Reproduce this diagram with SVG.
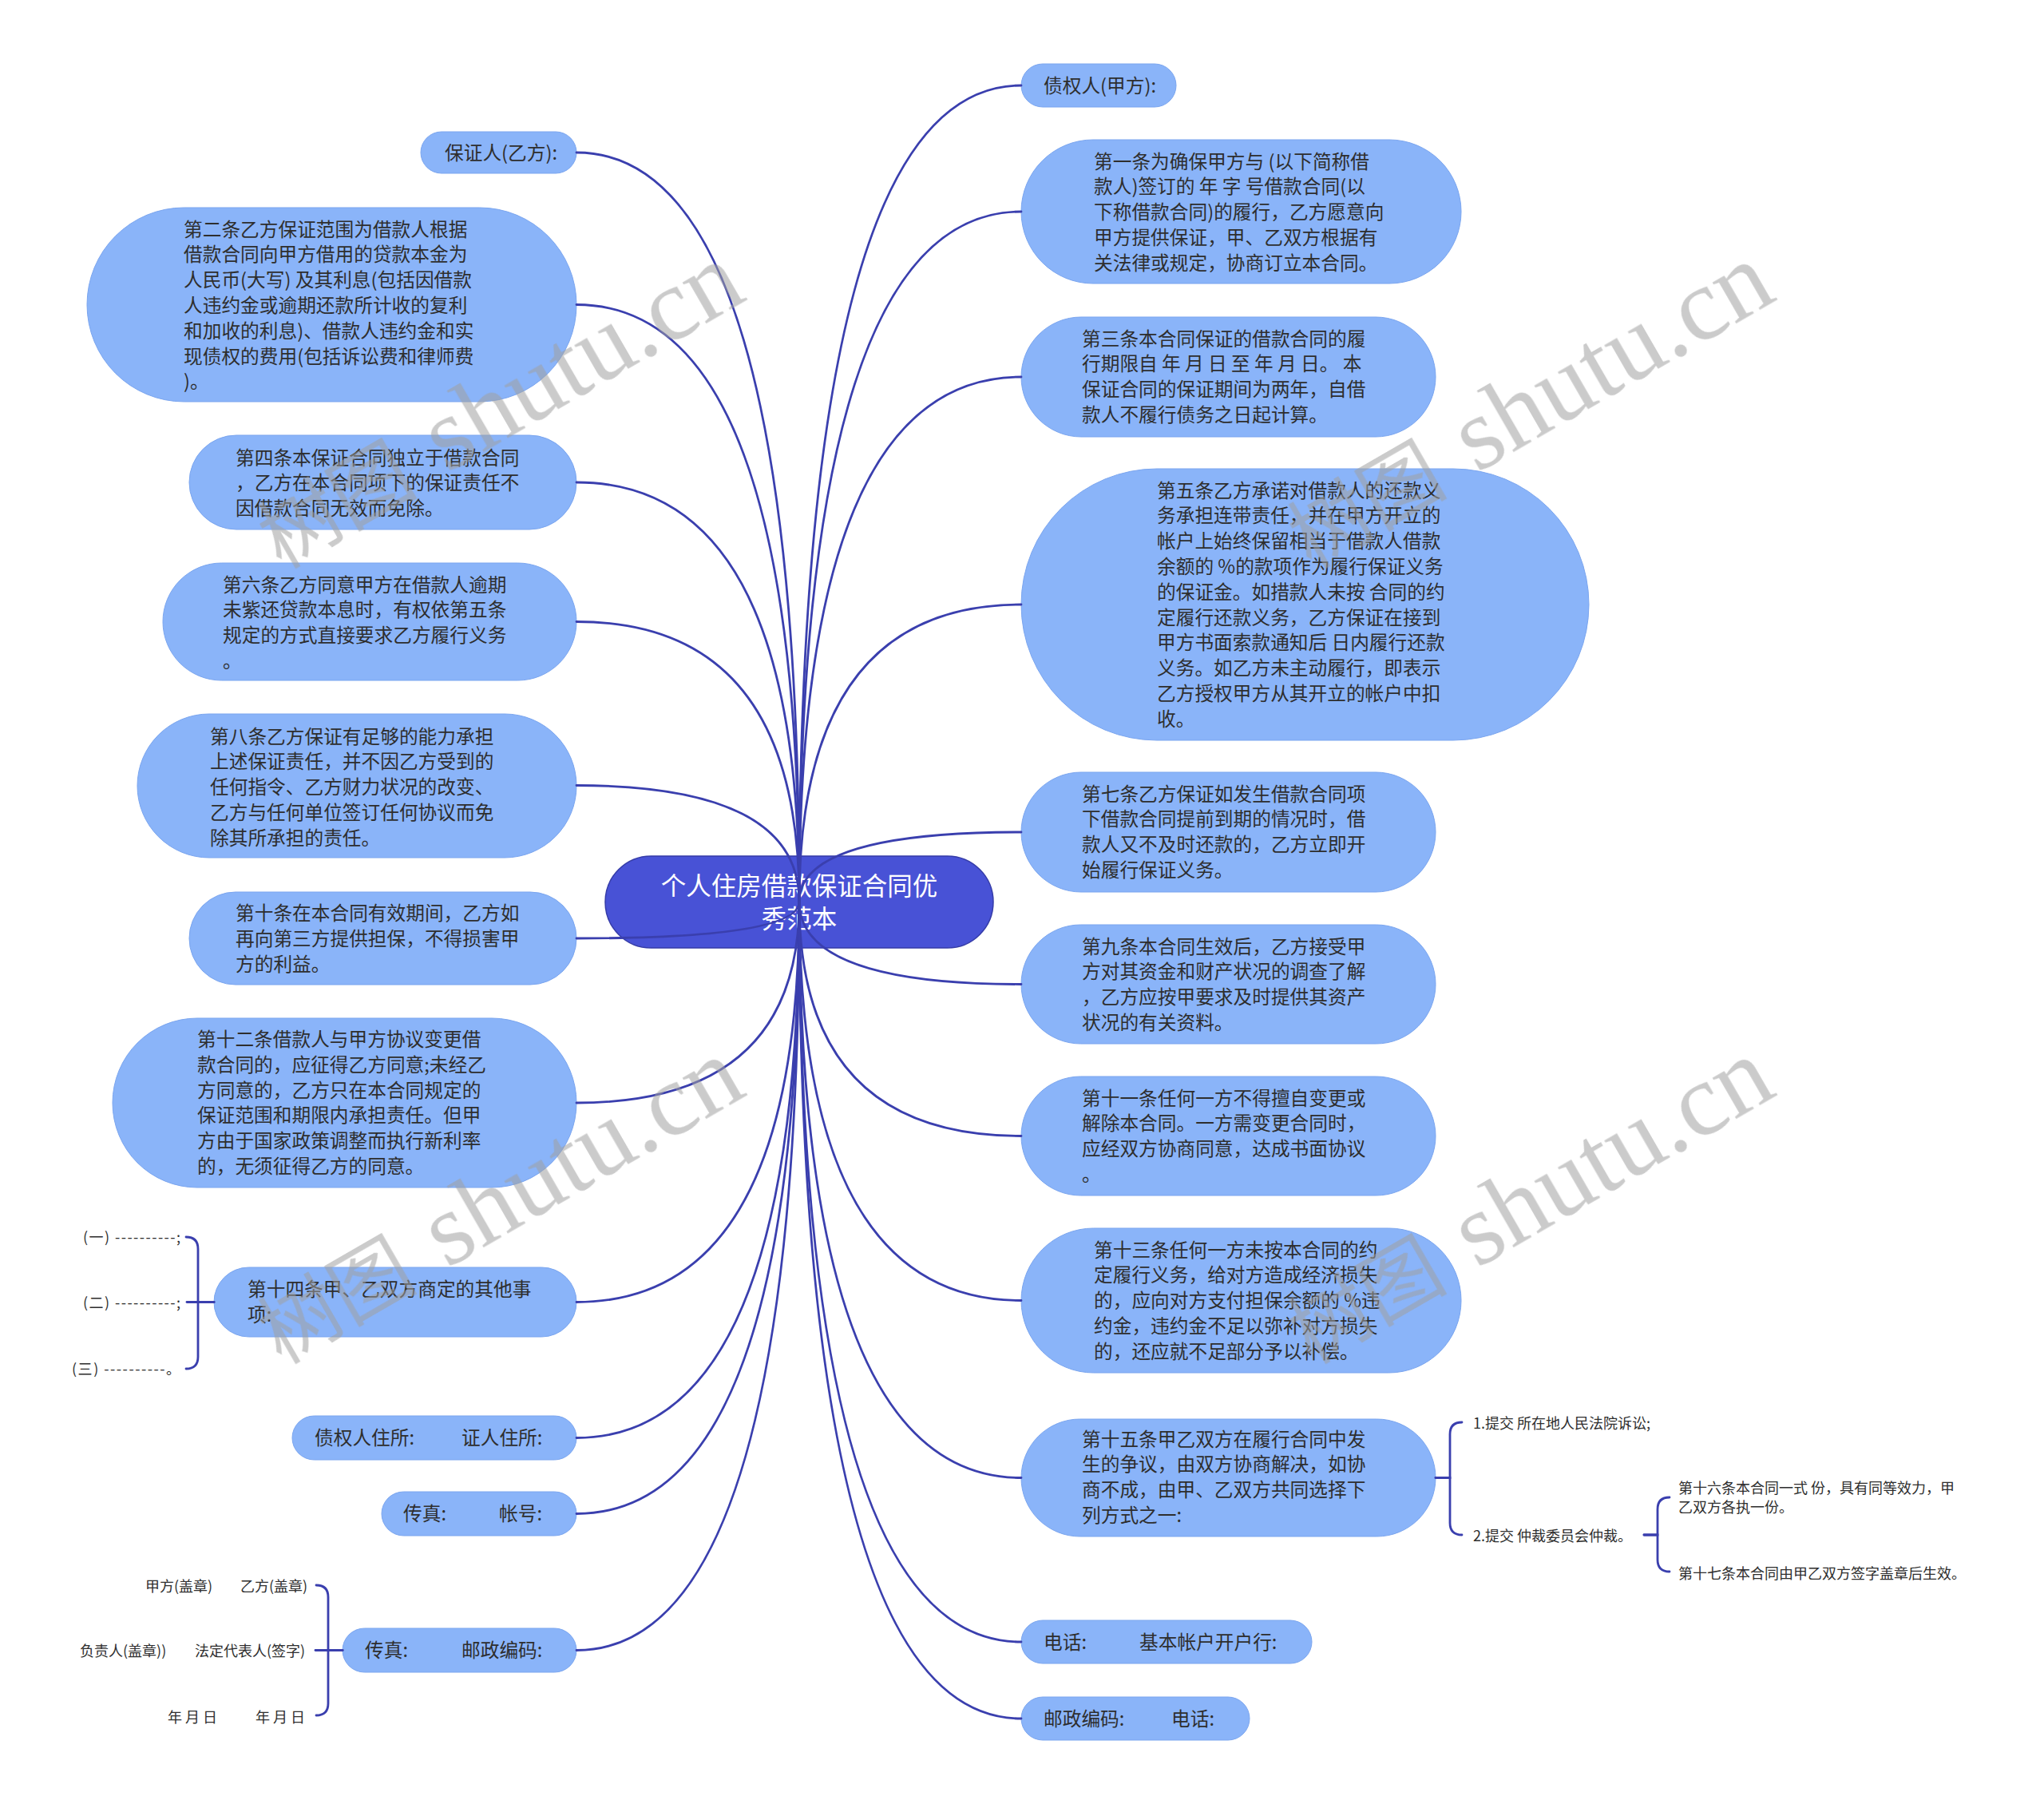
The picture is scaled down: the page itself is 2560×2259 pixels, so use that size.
<svg xmlns="http://www.w3.org/2000/svg" width="2560" height="2259" viewBox="0 0 2560 2259">
<style>
.bg{fill:#ffffff}
.node rect{fill:#8ab4f9;stroke:#7aa5ef;stroke-width:1}
.t{font-family:"Noto Sans CJK SC","Noto Sans",sans-serif;font-size:23.7px;fill:#2e2e2e}
.s{font-family:"Noto Sans CJK SC","Noto Sans",sans-serif;font-size:18px;fill:#2e2e2e}
.root rect{fill:#4852d6;stroke:#343ba8;stroke-width:1.5}
.rt{font-family:"Noto Sans CJK SC","Noto Sans",sans-serif;font-size:31.5px;fill:#ffffff;text-anchor:middle}
.c path{fill:none;stroke:#3a3fae;stroke-width:2.8;stroke-linecap:round}
.wm{fill:#a0a0a0;opacity:0.55}
.wc{font-family:"Noto Sans CJK SC",sans-serif;font-size:100px}
.wl{font-family:"Liberation Serif",serif;font-size:130px}
</style>
<rect class="bg" x="0" y="0" width="2560" height="2259"/>

<!-- left nodes -->
<g id="n-baozhengren" class="node"><rect x="527" y="165" width="195" height="52" rx="26"/><text class="t" x="557" y="199.5">保证人(乙方):</text></g>
<g id="n-2" class="node"><rect x="109" y="260" width="613" height="243" rx="121.5"/><text class="t" y="295.5"><tspan x="230">第二条乙方保证范围为借款人根据</tspan><tspan x="230" dy="31.8">借款合同向甲方借用的贷款本金为</tspan><tspan x="230" dy="31.8">人民币(大写) 及其利息(包括因借款</tspan><tspan x="230" dy="31.8">人违约金或逾期还款所计收的复利</tspan><tspan x="230" dy="31.8">和加收的利息)、借款人违约金和实</tspan><tspan x="230" dy="31.8">现债权的费用(包括诉讼费和律师费</tspan><tspan x="230" dy="31.8">)。</tspan></text></g>
<g id="n-4" class="node"><rect x="237" y="545" width="485" height="118" rx="59"/><text class="t" y="581.5"><tspan x="295">第四条本保证合同独立于借款合同</tspan><tspan x="295" dy="31.8">，乙方在本合同项下的保证责任不</tspan><tspan x="295" dy="31.8">因借款合同无效而免除。</tspan></text></g>
<g id="n-6" class="node"><rect x="204" y="705" width="518" height="147" rx="73.5"/><text class="t" y="740.5"><tspan x="279">第六条乙方同意甲方在借款人逾期</tspan><tspan x="279" dy="31.8">未紫还贷款本息时，有权依第五条</tspan><tspan x="279" dy="31.8">规定的方式直接要求乙方履行义务</tspan><tspan x="279" dy="31.8">。</tspan></text></g>
<g id="n-8" class="node"><rect x="172" y="894" width="550" height="180" rx="90"/><text class="t" y="930.5"><tspan x="263">第八条乙方保证有足够的能力承担</tspan><tspan x="263" dy="31.8">上述保证责任，并不因乙方受到的</tspan><tspan x="263" dy="31.8">任何指令、乙方财力状况的改变、</tspan><tspan x="263" dy="31.8">乙方与任何单位签订任何协议而免</tspan><tspan x="263" dy="31.8">除其所承担的责任。</tspan></text></g>
<g id="n-10" class="node"><rect x="237" y="1117" width="485" height="116" rx="58"/><text class="t" y="1152"><tspan x="295">第十条在本合同有效期间，乙方如</tspan><tspan x="295" dy="31.8">再向第三方提供担保，不得损害甲</tspan><tspan x="295" dy="31.8">方的利益。</tspan></text></g>
<g id="n-12" class="node"><rect x="141" y="1275" width="581" height="212" rx="106"/><text class="t" y="1310"><tspan x="247">第十二条借款人与甲方协议变更借</tspan><tspan x="247" dy="31.8">款合同的，应征得乙方同意;未经乙</tspan><tspan x="247" dy="31.8">方同意的，乙方只在本合同规定的</tspan><tspan x="247" dy="31.8">保证范围和期限内承担责任。但甲</tspan><tspan x="247" dy="31.8">方由于国家政策调整而执行新利率</tspan><tspan x="247" dy="31.8">的，无须征得乙方的同意。</tspan></text></g>
<g id="n-14" class="node"><rect x="268" y="1587" width="454" height="87" rx="43.5"/><text class="t" y="1623"><tspan x="310">第十四条甲、乙双方商定的其他事</tspan><tspan x="310" dy="31.8">项:</tspan></text></g>
<g id="n-14-1"><text class="s" x="226" y="1555.5" text-anchor="end" textLength="122" lengthAdjust="spacing">(一) ----------;</text></g>
<g id="n-14-2"><text class="s" x="226" y="1637.5" text-anchor="end" textLength="122" lengthAdjust="spacing">(二) ----------;</text></g>
<g id="n-14-3"><text class="s" x="226" y="1720.5" text-anchor="end" textLength="136" lengthAdjust="spacing">(三) ----------。</text></g>
<g id="n-zhusuo" class="node"><rect x="366" y="1773" width="356" height="55" rx="27.5"/><text class="t" y="1809"><tspan x="394">债权人住所:</tspan><tspan x="578">证人住所:</tspan></text></g>
<g id="n-zhanghao" class="node"><rect x="478" y="1868" width="244" height="55" rx="27.5"/><text class="t" y="1904"><tspan x="505">传真:</tspan><tspan x="625">帐号:</tspan></text></g>
<g id="n-youbian" class="node"><rect x="429" y="2039" width="293" height="55" rx="27.5"/><text class="t" y="2075"><tspan x="457">传真:</tspan><tspan x="578">邮政编码:</tspan></text></g>
<g id="n-sign-1"><text class="s" y="1992.5"><tspan x="182">甲方(盖章)</tspan><tspan x="301">乙方(盖章)</tspan></text></g>
<g id="n-sign-2"><text class="s" y="2073.5"><tspan x="100">负责人(盖章))</tspan><tspan x="244">法定代表人(签字)</tspan></text></g>
<g id="n-sign-3"><text class="s" y="2156.5"><tspan x="210">年 月 日</tspan><tspan x="320">年 月 日</tspan></text></g>

<!-- right nodes -->
<g id="n-zhaiquanren" class="node"><rect x="1279" y="80" width="194" height="54" rx="27"/><text class="t" x="1307" y="115.5">债权人(甲方):</text></g>
<g id="n-1" class="node"><rect x="1279" y="175" width="551" height="180" rx="90"/><text class="t" y="210.5"><tspan x="1370">第一条为确保甲方与 (以下简称借</tspan><tspan x="1370" dy="31.8">款人)签订的 年 字 号借款合同(以</tspan><tspan x="1370" dy="31.8">下称借款合同)的履行，乙方愿意向</tspan><tspan x="1370" dy="31.8">甲方提供保证，甲、乙双方根据有</tspan><tspan x="1370" dy="31.8">关法律或规定，协商订立本合同。</tspan></text></g>
<g id="n-3" class="node"><rect x="1279" y="397" width="519" height="150" rx="75"/><text class="t" y="432.5"><tspan x="1355">第三条本合同保证的借款合同的履</tspan><tspan x="1355" dy="31.8">行期限自 年 月 日 至 年 月 日。 本</tspan><tspan x="1355" dy="31.8">保证合同的保证期间为两年，自借</tspan><tspan x="1355" dy="31.8">款人不履行债务之日起计算。</tspan></text></g>
<g id="n-5" class="node"><rect x="1279" y="587" width="711" height="340" rx="170"/><text class="t" y="622.5"><tspan x="1449">第五条乙方承诺对借款人的还款义</tspan><tspan x="1449" dy="31.8">务承担连带责任，并在甲方开立的</tspan><tspan x="1449" dy="31.8">帐户上始终保留相当于借款人借款</tspan><tspan x="1449" dy="31.8">余额的 %的款项作为履行保证义务</tspan><tspan x="1449" dy="31.8">的保证金。如措款人未按 合同的约</tspan><tspan x="1449" dy="31.8">定履行还款义务，乙方保证在接到</tspan><tspan x="1449" dy="31.8">甲方书面索款通知后 日内履行还款</tspan><tspan x="1449" dy="31.8">义务。如乙方未主动履行，即表示</tspan><tspan x="1449" dy="31.8">乙方授权甲方从其开立的帐户中扣</tspan><tspan x="1449" dy="31.8">收。</tspan></text></g>
<g id="n-7" class="node"><rect x="1279" y="967" width="519" height="150" rx="75"/><text class="t" y="1002.5"><tspan x="1355">第七条乙方保证如发生借款合同项</tspan><tspan x="1355" dy="31.8">下借款合同提前到期的情况时，借</tspan><tspan x="1355" dy="31.8">款人又不及时还款的，乙方立即开</tspan><tspan x="1355" dy="31.8">始履行保证义务。</tspan></text></g>
<g id="n-9" class="node"><rect x="1279" y="1158" width="519" height="149" rx="74.5"/><text class="t" y="1193.5"><tspan x="1355">第九条本合同生效后，乙方接受甲</tspan><tspan x="1355" dy="31.8">方对其资金和财产状况的调查了解</tspan><tspan x="1355" dy="31.8">，乙方应按甲要求及时提供其资产</tspan><tspan x="1355" dy="31.8">状况的有关资料。</tspan></text></g>
<g id="n-11" class="node"><rect x="1279" y="1348" width="519" height="149" rx="74.5"/><text class="t" y="1383.5"><tspan x="1355">第十一条任何一方不得擅自变更或</tspan><tspan x="1355" dy="31.8">解除本合同。一方需变更合同时，</tspan><tspan x="1355" dy="31.8">应经双方协商同意，达成书面协议</tspan><tspan x="1355" dy="31.8">。</tspan></text></g>
<g id="n-13" class="node"><rect x="1279" y="1538" width="551" height="181" rx="90.5"/><text class="t" y="1573.5"><tspan x="1370">第十三条任何一方未按本合同的约</tspan><tspan x="1370" dy="31.8">定履行义务，给对方造成经济损失</tspan><tspan x="1370" dy="31.8">的，应向对方支付担保余额的 %违</tspan><tspan x="1370" dy="31.8">约金，违约金不足以弥补对方损失</tspan><tspan x="1370" dy="31.8">的，还应就不足部分予以补偿。</tspan></text></g>
<g id="n-15" class="node"><rect x="1279" y="1777" width="519" height="147" rx="73.5"/><text class="t" y="1810.5"><tspan x="1355">第十五条甲乙双方在履行合同中发</tspan><tspan x="1355" dy="31.8">生的争议，由双方协商解决，如协</tspan><tspan x="1355" dy="31.8">商不成，由甲、乙双方共同选择下</tspan><tspan x="1355" dy="31.8">列方式之一:</tspan></text></g>
<g id="n-15-1"><text class="s" x="1845" y="1788.5">1.提交 所在地人民法院诉讼;</text></g>
<g id="n-15-2"><text class="s" x="1845" y="1929.5">2.提交 仲裁委员会仲裁。</text></g>
<g id="n-16"><text class="s" y="1869.5"><tspan x="2102">第十六条本合同一式 份，具有同等效力，甲</tspan><tspan x="2102" dy="24">乙双方各执一份。</tspan></text></g>
<g id="n-17"><text class="s" x="2102" y="1976.5">第十七条本合同由甲乙双方签字盖章后生效。</text></g>
<g id="n-dianhua" class="node"><rect x="1279" y="2029" width="364" height="54" rx="27"/><text class="t" y="2064.5"><tspan x="1307">电话:</tspan><tspan x="1427">基本帐户开户行:</tspan></text></g>
<g id="n-youzheng" class="node"><rect x="1279" y="2125" width="286" height="54" rx="27"/><text class="t" y="2160.5"><tspan x="1307">邮政编码:</tspan><tspan x="1467">电话:</tspan></text></g>

<!-- root -->
<g id="root" class="root"><rect x="758" y="1072" width="486" height="115" rx="57.5"/><text class="rt" y="1121"><tspan x="1001">个人住房借款保证合同优</tspan><tspan x="1001" dy="41">秀范本</tspan></text></g>

<!-- connectors -->
<g id="connectors" class="c">
<path d="M1001 1129 Q1001 191 722 191"/>
<path d="M1001 1129 Q1001 381.5 722 381.5"/>
<path d="M1001 1129 Q1001 604 722 604"/>
<path d="M1001 1129 Q1001 778.5 722 778.5"/>
<path d="M1001 1129 Q1001 983.5 722 983.5"/>
<path d="M1001 1129 Q1001 1175 722 1175"/>
<path d="M1001 1129 Q1001 1381 722 1381"/>
<path d="M1001 1129 Q1001 1630.5 722 1630.5"/>
<path d="M1001 1129 Q1001 1800.5 722 1800.5"/>
<path d="M1001 1129 Q1001 1895.5 722 1895.5"/>
<path d="M1001 1129 Q1001 2066.5 722 2066.5"/>
<path d="M1001 1129 Q1001 107 1279 107"/>
<path d="M1001 1129 Q1001 265 1279 265"/>
<path d="M1001 1129 Q1001 472 1279 472"/>
<path d="M1001 1129 Q1001 757 1279 757"/>
<path d="M1001 1129 Q1001 1042 1279 1042"/>
<path d="M1001 1129 Q1001 1232.5 1279 1232.5"/>
<path d="M1001 1129 Q1001 1422.5 1279 1422.5"/>
<path d="M1001 1129 Q1001 1628.5 1279 1628.5"/>
<path d="M1001 1129 Q1001 1850.5 1279 1850.5"/>
<path d="M1001 1129 Q1001 2056 1279 2056"/>
<path d="M1001 1129 Q1001 2152 1279 2152"/>
<path d="M268 1630.5 H234"/>
<path d="M268 1630.5 H248 V1564 Q248 1549 233 1549"/>
<path d="M268 1630.5 H248 V1699 Q248 1714 233 1714"/>
<path d="M429 2066.5 H395"/>
<path d="M429 2066.5 H411 V2000 Q411 1985 396 1985"/>
<path d="M429 2066.5 H411 V2133 Q411 2148 396 2148"/>
<path d="M1798 1850.5 H1816 V1796 Q1816 1781 1831 1781"/>
<path d="M1798 1850.5 H1816 V1907 Q1816 1922 1831 1922"/>
<path d="M2059 1922 H2076 V1890 Q2076 1875 2091 1875"/>
<path d="M2059 1922 H2076 V1953 Q2076 1968 2091 1968"/>
</g>

<!-- watermarks -->
<g id="watermarks" class="wm">
<text transform="translate(352 713) rotate(-30)"><tspan class="wc" x="0">树图</tspan><tspan class="wl" x="240">shutu.cn</tspan></text>
<text transform="translate(1642 713) rotate(-30)"><tspan class="wc" x="0">树图</tspan><tspan class="wl" x="240">shutu.cn</tspan></text>
<text transform="translate(352 1709) rotate(-30)"><tspan class="wc" x="0">树图</tspan><tspan class="wl" x="240">shutu.cn</tspan></text>
<text transform="translate(1642 1709) rotate(-30)"><tspan class="wc" x="0">树图</tspan><tspan class="wl" x="240">shutu.cn</tspan></text>
</g>
</svg>
